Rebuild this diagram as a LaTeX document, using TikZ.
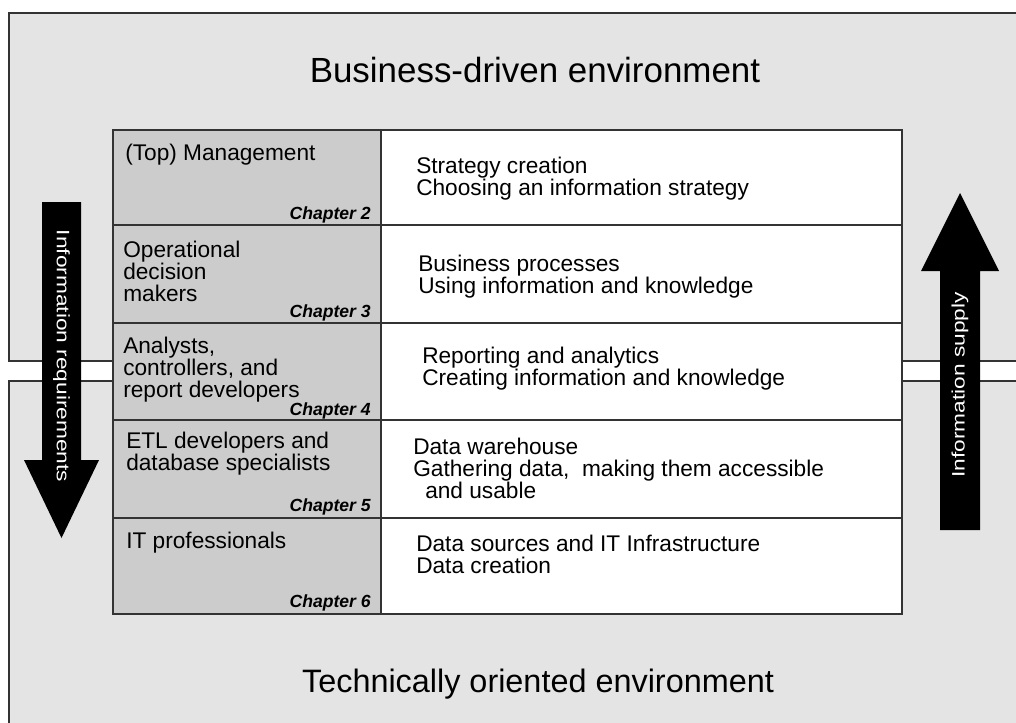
\documentclass[tikz,border=0pt]{standalone}
\usepackage{graphicx}
\usepackage{fontspec}
\setmainfont{Liberation Sans}
\definecolor{panelgray}{HTML}{E4E4E4}
\definecolor{rolegray}{HTML}{CCCCCC}
\definecolor{linegray}{HTML}{333333}
\begin{document}
\begin{tikzpicture}[x=0.75pt,y=-0.75pt]
\tikzset{
  frameline/.style={draw=linegray, line width=1.1pt},
  rolecell/.style={draw=linegray, fill=rolegray, line width=1.2pt, inner sep=0pt,
    anchor=north west, minimum width=201pt},
  taskcell/.style={draw=linegray, fill=white, line width=1.2pt, inner sep=0pt,
    anchor=north west, minimum width=390.75pt},
  % multi-line texts are placed by the baseline of their last line
  bodytext/.style={font=\fontsize{17}{16.5}\selectfont, inner sep=0pt, anchor=base west, align=left},
  chaptext/.style={font=\fontsize{13.2}{13.2}\selectfont\bfseries\itshape, inner sep=0pt, anchor=base east},
  headtext/.style={font=\fontsize{26.2}{26.2}\selectfont, inner sep=0pt, anchor=base},
  flowtext/.style={font=\fontsize{13.5}{13.5}\selectfont, text=white, inner sep=0pt},
  flowarrow/.style={fill=black},
}
\useasboundingbox (0,0) rectangle (1016,722);
\clip (0,0) rectangle (1016,722);
\fill[white] (0,0) rectangle (1016,722);

% business-driven (upper) and technical (lower) panels
\fill[panelgray] (9,13) rectangle (1020,361);
\draw[frameline] (1020,13) -- (9,13) -- (9,361) -- (1020,361);
\fill[panelgray] (9,381) rectangle (1020,730);
\draw[frameline] (1020,381) -- (9,381) -- (9,730);

% table: roles on the left, tasks on the right
\node[rolecell, minimum height=71.25pt] (r1) at (112,129) {};
\node[rolecell, minimum height=73.5pt]  (r2) at (112,224) {};
\node[rolecell, minimum height=72.75pt] (r3) at (112,322) {};
\node[rolecell, minimum height=73.5pt]  (r4) at (112,419) {};
\node[rolecell, minimum height=72pt]    (r5) at (112,517) {};
\node[taskcell, minimum height=71.25pt] (t1) at (380,129) {};
\node[taskcell, minimum height=73.5pt]  (t2) at (380,224) {};
\node[taskcell, minimum height=72.75pt] (t3) at (380,322) {};
\node[taskcell, minimum height=73.5pt]  (t4) at (380,419) {};
\node[taskcell, minimum height=72pt]    (t5) at (380,517) {};

% role texts
\node[bodytext] (l1) at (125,160) {(Top) Management};
\node[bodytext] (l2) at (123,301) {Operational\\decision\\makers};
\node[bodytext] (l3) at (123,397) {Analysts,\\controllers, and\\report developers};
\node[bodytext] (l4) at (126,470) {ETL developers and\\database specialists};
\node[bodytext] (l5) at (126,548) {IT professionals};

% chapter references
\node[chaptext] (c2) at (371,219) {Chapter 2};
\node[chaptext] (c3) at (371,317) {Chapter 3};
\node[chaptext] (c4) at (371,415) {Chapter 4};
\node[chaptext] (c5) at (371,511) {Chapter 5};
\node[chaptext] (c6) at (371,607) {Chapter 6};

% task texts
\node[bodytext] (k1) at (416,195) {Strategy creation\\Choosing an information strategy};
\node[bodytext] (k2) at (418,293) {Business processes\\Using information and knowledge};
\node[bodytext] (k3) at (422,385) {Reporting and analytics\\Creating information and knowledge};
\node[bodytext] (k4) at (413,498) {Data warehouse\\Gathering data,\ \ making them accessible\\\hspace*{9pt}and usable};
\node[bodytext] (k5) at (416,573) {Data sources and IT Infrastructure\\Data creation};

% panel headings
\node[headtext] (top) at (535,82) {Business-driven environment};
\node[headtext, font=\fontsize{24.3}{24.3}\selectfont] (bottom) at (538,692) {Technically oriented environment};

% flow arrows
\fill[flowarrow] (42,202) -- (81,202) -- (81,460) -- (99,460) -- (61.5,538) -- (24,460) -- (42,460) -- cycle;
\fill[flowarrow] (940,530) -- (980,530) -- (980,271) -- (999,271) -- (960,193) -- (921,271) -- (940,271) -- cycle;
\node[flowtext, rotate=-90] (req) at (61.5,356) {\scalebox{1.26}[1]{Information requirements}};
\node[flowtext, rotate=90] (sup) at (960,385) {\scalebox{1.26}[1]{Information supply}};
\end{tikzpicture}
\end{document}
